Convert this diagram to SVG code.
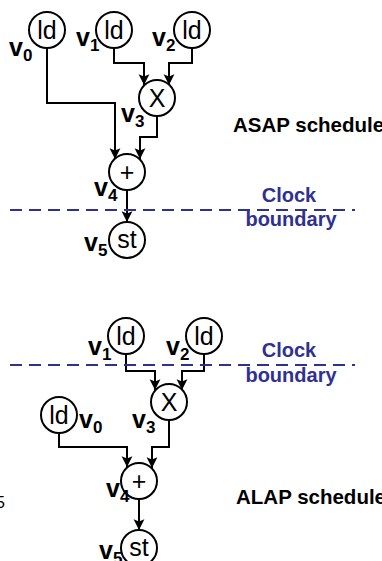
<svg xmlns="http://www.w3.org/2000/svg" width="382" height="561" viewBox="0 0 382 561">
<defs>
<style>
.node circle{fill:#fff;stroke:#000;stroke-width:2}
.op{font-family:"Liberation Sans",Arial,sans-serif;font-size:25px;fill:#000;text-anchor:middle}
.lbl{font-family:"Liberation Sans",Arial,sans-serif;font-size:25px;font-weight:bold;fill:#000}
.sub{font-size:17px}
.title{font-family:"Liberation Sans",Arial,sans-serif;font-size:20.5px;font-weight:bold;fill:#000}
.clk{font-family:"Liberation Sans",Arial,sans-serif;font-size:20px;font-weight:bold;fill:#2e3192;text-anchor:middle}
.edge{fill:none;stroke:#000;stroke-width:2;marker-end:url(#arr)}
.dash{stroke:#2e3192;stroke-width:2;stroke-dasharray:12 7}
</style>
<marker id="arr" markerUnits="userSpaceOnUse" markerWidth="12" markerHeight="12" viewBox="0 -5 10 10" refX="9" refY="0" orient="auto">
<path d="M0,-4.5 L9,0 L0,4.5 L2,0 z" fill="#000"/>
</marker>
</defs>

<g id="connectors">
<path class="edge" d="M114,48 V63 H144 V85"/>
<path class="edge" d="M192,48 V63 H169 V85"/>
<path class="edge" d="M157,116 V137 H140 V159"/>
<path class="edge" d="M47,48 V103 H115 V159"/>
<path class="edge" d="M127,190 V222"/>
<path class="edge" d="M126,354 V371 H155 V390"/>
<path class="edge" d="M204,354 V371 H182 V390"/>
<path class="edge" d="M59,433 V447 H127 V467"/>
<path class="edge" d="M169,420 V447 H152 V468"/>
<path class="edge" d="M139,499 V530"/>
</g>

<g id="asap_v0" class="node"><circle cx="47" cy="30" r="18"/><text class="op" x="47" y="39">ld</text><text class="lbl" x="9" y="56">v<tspan class="sub" dy="5">0</tspan></text></g>
<g id="asap_v1" class="node"><circle cx="114" cy="30" r="18"/><text class="op" x="114" y="39">ld</text><text class="lbl" x="76" y="46">v<tspan class="sub" dy="5">1</tspan></text></g>
<g id="asap_v2" class="node"><circle cx="192" cy="30" r="18"/><text class="op" x="192" y="39">ld</text><text class="lbl" x="152" y="46">v<tspan class="sub" dy="5">2</tspan></text></g>
<g id="asap_v3" class="node"><circle cx="157" cy="98" r="18"/><text class="op" x="157" y="107">X</text><text class="lbl" x="121" y="122">v<tspan class="sub" dy="5">3</tspan></text></g>
<g id="asap_v4" class="node"><circle cx="127" cy="172" r="18"/><text class="op" x="127" y="181">+</text><text class="lbl" x="94" y="196">v<tspan class="sub" dy="5">4</tspan></text></g>
<g id="asap_v5" class="node"><circle cx="127" cy="240" r="18"/><text class="op" x="127" y="248">st</text><text class="lbl" x="84" y="251">v<tspan class="sub" dy="5">5</tspan></text></g>

<g id="alap_v1" class="node"><circle cx="126" cy="336" r="18"/><text class="op" x="126" y="345">ld</text><text class="lbl" x="88" y="355">v<tspan class="sub" dy="5">1</tspan></text></g>
<g id="alap_v2" class="node"><circle cx="204" cy="336" r="18"/><text class="op" x="204" y="345">ld</text><text class="lbl" x="166" y="355">v<tspan class="sub" dy="5">2</tspan></text></g>
<g id="alap_v3" class="node"><circle cx="169" cy="402" r="18"/><text class="op" x="169" y="411">X</text><text class="lbl" x="132" y="428">v<tspan class="sub" dy="5">3</tspan></text></g>
<g id="alap_v0" class="node"><circle cx="59" cy="415" r="18"/><text class="op" x="59" y="424">ld</text><text class="lbl" x="79" y="428">v<tspan class="sub" dy="5">0</tspan></text></g>
<g id="alap_v4" class="node"><circle cx="139" cy="481" r="18"/><text class="op" x="139" y="490">+</text><text class="lbl" x="106" y="497">v<tspan class="sub" dy="5">4</tspan></text></g>
<g id="alap_v5" class="node"><circle cx="139" cy="548" r="18"/><text class="op" x="139" y="556">st</text><text class="lbl" x="99" y="559">v<tspan class="sub" dy="5">5</tspan></text></g>

<g id="boundaries">
<line class="dash" x1="10" y1="210" x2="355" y2="210"/>
<line class="dash" x1="10" y1="365" x2="355" y2="365"/>
</g>

<g id="labels">
<text class="title" x="233" y="132">ASAP schedule</text>
<text class="clk" x="289" y="202">Clock</text>
<text class="clk" x="291" y="226">boundary</text>
<text class="clk" x="289" y="357">Clock</text>
<text class="clk" x="291" y="382">boundary</text>
<text class="title" x="236" y="504">ALAP schedule</text>
<text x="-4" y="508" font-family="Liberation Sans, Arial, sans-serif" font-size="16" fill="#000">5</text>
</g>
</svg>
